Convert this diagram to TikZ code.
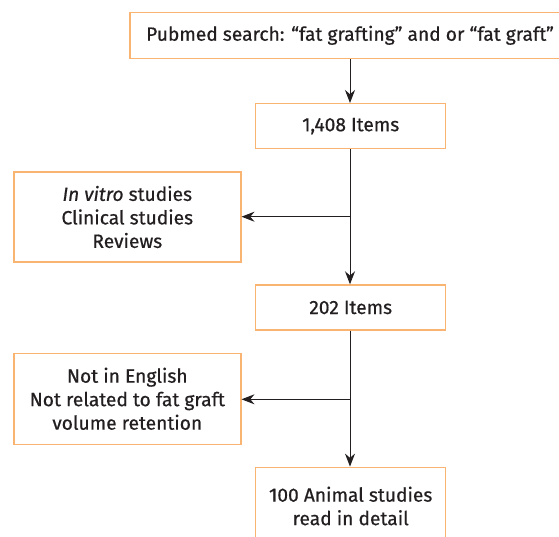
\documentclass[tikz,border=0pt]{standalone}
\usepackage{fontspec}
\setmainfont{Fira Sans}[FakeBold=0.6]
\usetikzlibrary{arrows.meta}

\definecolor{boxorange}{RGB}{248,180,112}
\definecolor{inkgray}{RGB}{35,31,32}

\tikzset{
  BoxStyle/.style = {draw=boxorange, line width=1.4pt, fill=white,
    align=center, inner sep=0pt, text=inkgray,
    font=\fontsize{19.2}{23.5}\selectfont},
  EdgeStyle/.style = {draw=inkgray, line width=1pt,
    -{Stealth[length=13pt,width=10pt]}}
}

\begin{document}
\begin{tikzpicture}[x=1pt, y=-1pt]
    \useasboundingbox (0,0) rectangle (559,536);

    % Boxes
    \node[BoxStyle, minimum width=440, minimum height=46] (search) at (350,35.3)
      {Pubmed search: “fat grafting” and or “fat graft”};
    \node[BoxStyle, minimum width=190, minimum height=45] (items1408) at (350.7,126.2)
      {1,408 Items};
    \node[BoxStyle, minimum width=227, minimum height=90] (excl1) at (127.3,217)
      {\textit{In vitro} studies\\Clinical studies\\Reviews};
    \node[BoxStyle, minimum width=190, minimum height=45] (items202) at (350.7,307.5)
      {202 Items};
    \node[BoxStyle, minimum width=227, minimum height=91] (excl2) at (127.3,398.8)
      {Not in English\\Not related to fat graft\\volume retention};
    \node[BoxStyle, minimum width=190, minimum height=77.4] (animal) at (350.7,506)
      {100 Animal studies\\read in detail};

    % Branch points
    \coordinate (b1) at (350,216.7);
    \coordinate (b2) at (350,399.3);

    % Edges
    \draw[EdgeStyle] (search.south -| b1) -- (items1408.north -| b1);
    \draw[EdgeStyle] (items1408.south -| b1) -- (items202.north -| b1);
    \draw[EdgeStyle] (b1) -- (excl1.east |- b1);
    \draw[EdgeStyle] (items202.south -| b2) -- (animal.north -| b2);
    \draw[EdgeStyle] (b2) -- (excl2.east |- b2);
\end{tikzpicture}
\end{document}
